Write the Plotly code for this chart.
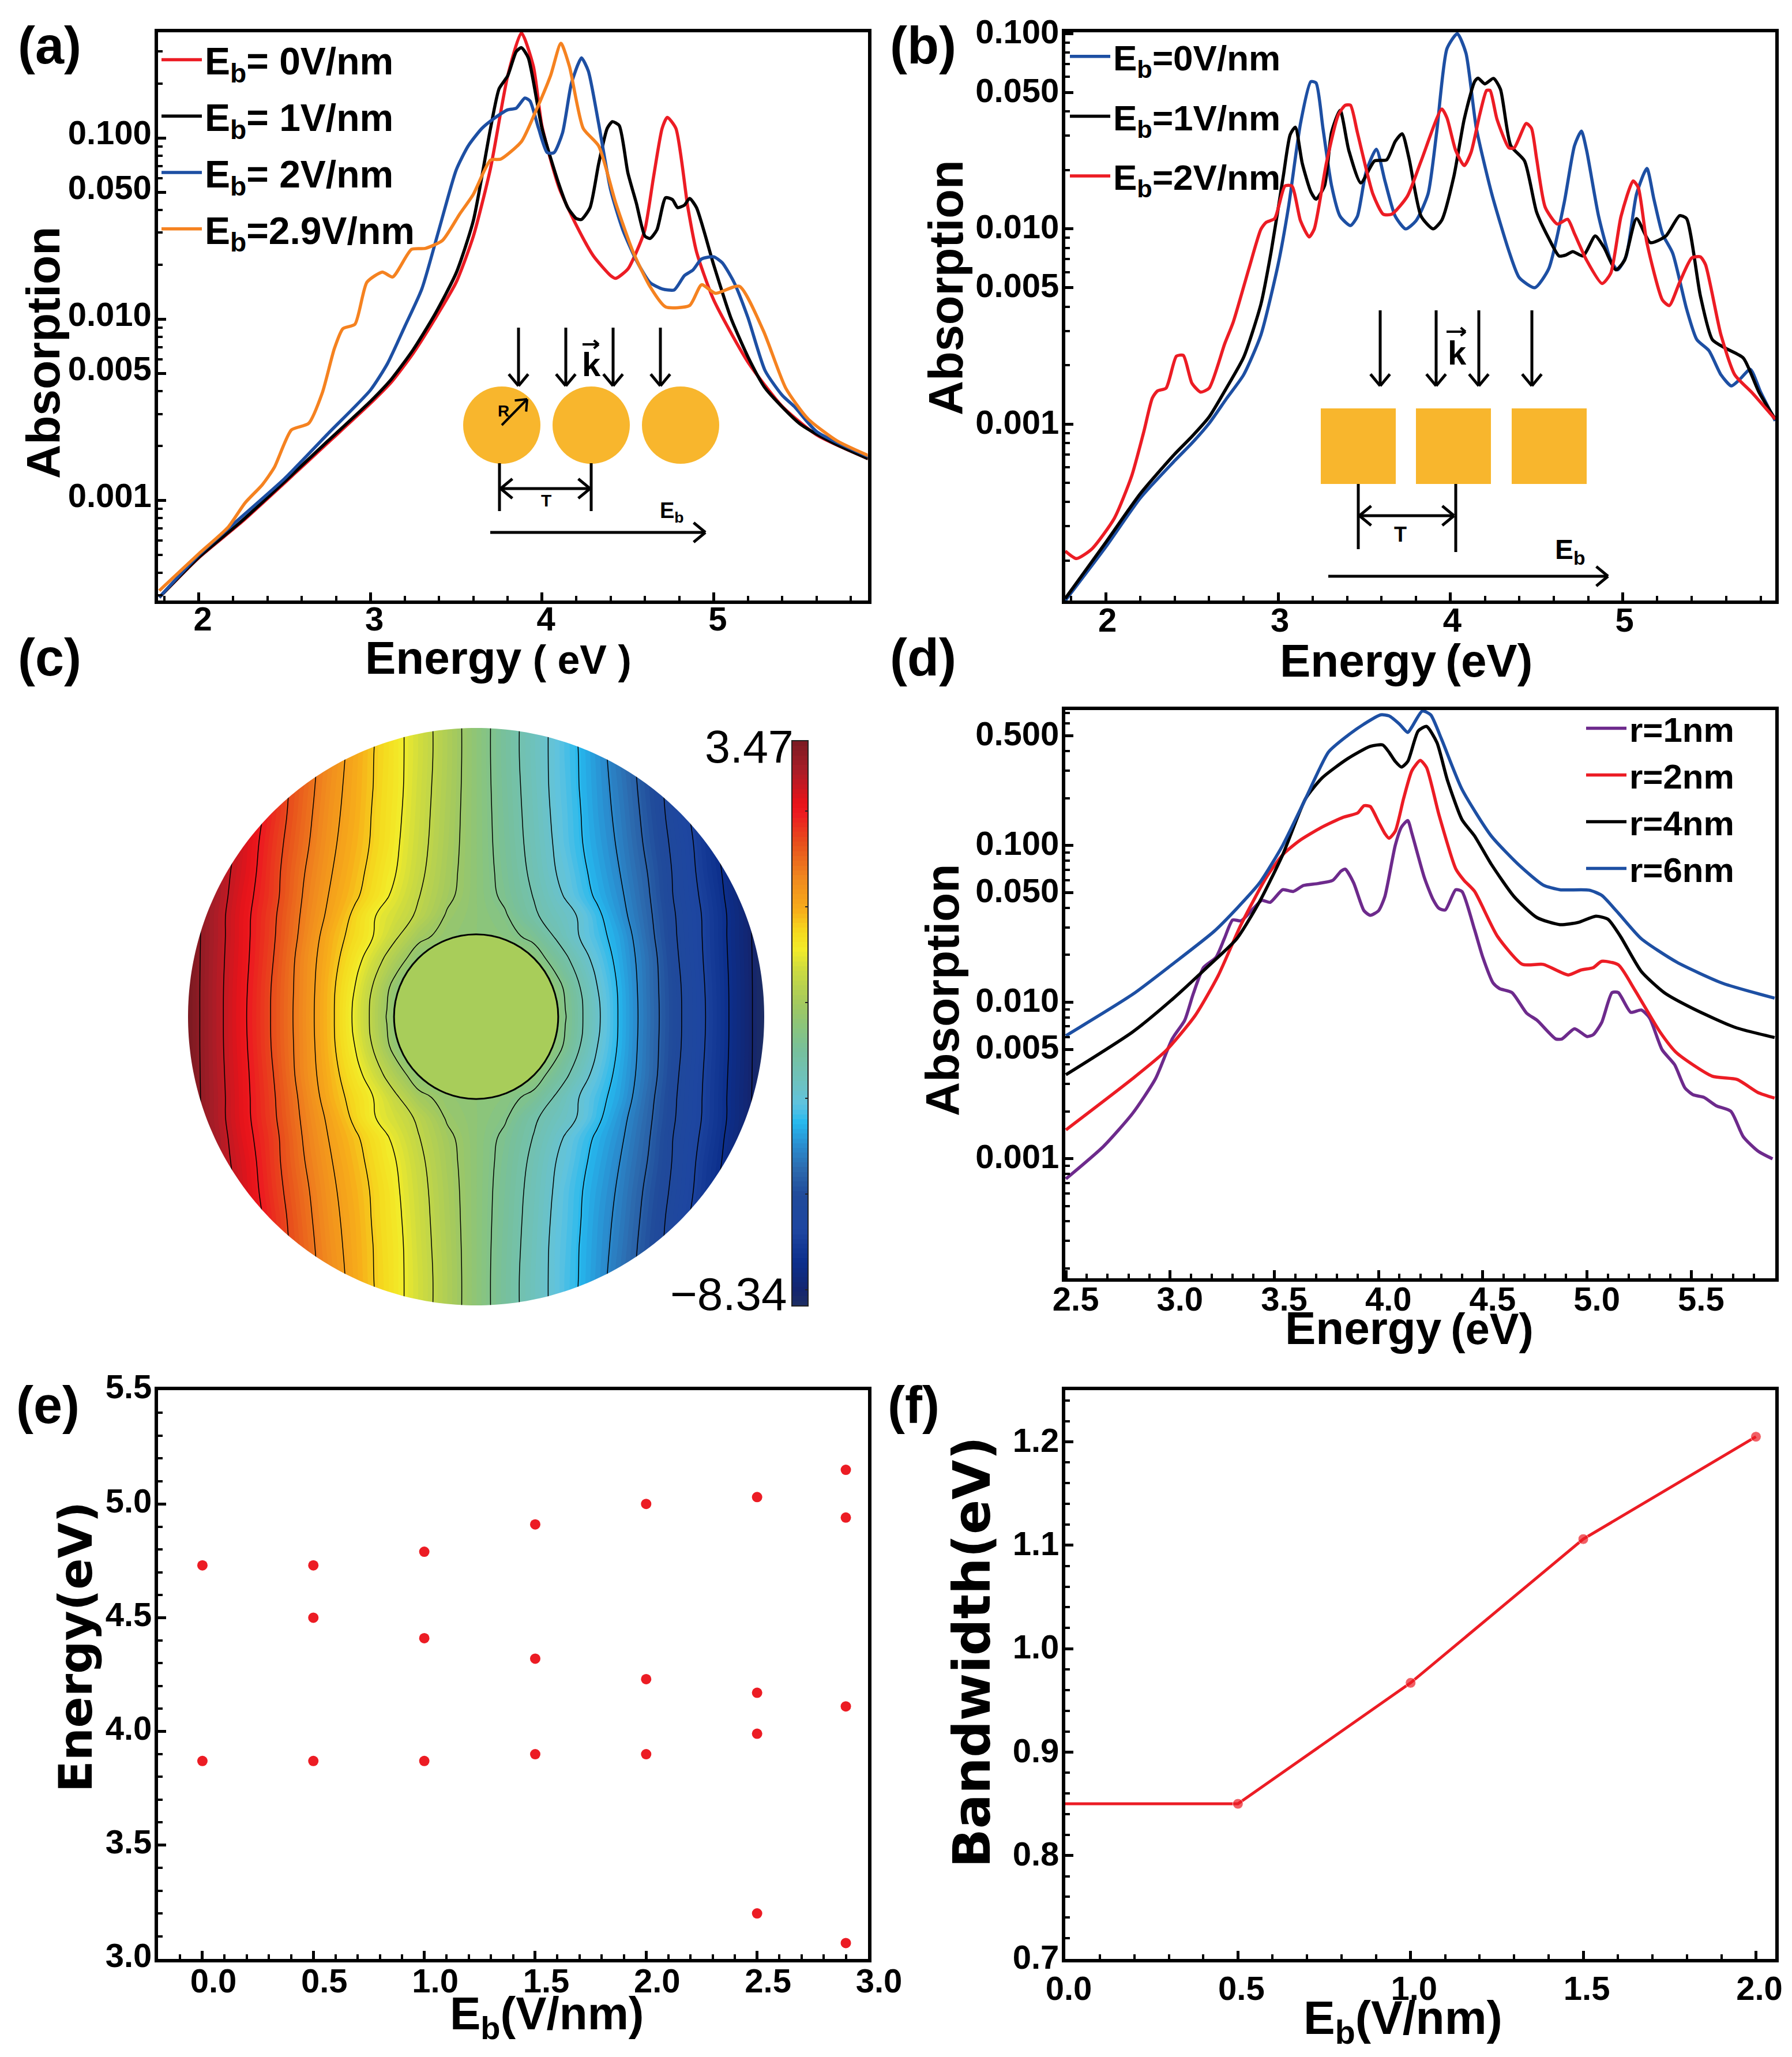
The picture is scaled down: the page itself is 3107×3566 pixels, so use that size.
import numpy as np
import plotly.graph_objects as go

W, H = 3107, 3566
PAGE_PAD = 8  # the html body keeps its default margin
FONT = "Liberation Sans"
WIDE = "DejaVu Sans"

RED = "#ec1c24"
BLUE = "#1d4fa3"
ORANGE = "#f58220"
PURPLE = "#6d2a8c"
GOLD = "#f8b62d"

# (a) absorption of the nanowire array, by bias field
a0_e = [1.77, 2.0, 2.25, 2.5, 2.75, 3.0, 3.125, 3.25, 3.375, 3.5, 3.6, 3.7, 3.8, 3.88, 3.95, 4.0, 4.1, 4.2, 4.3, 4.4, 4.43, 4.5, 4.55, 4.6, 4.65, 4.7, 4.73, 4.78, 4.85, 4.9, 5.0, 5.2, 5.4, 5.6, 5.9]
a0_a = [2.92e-4, 4.83e-4, 7.6e-4, 1.25e-3, 2.07e-3, 3.43e-3, 4.53e-3, 6.5e-3, 0.01, 0.016, 0.0287, 0.068, 0.22, 0.38, 0.248, 0.116, 0.053, 0.033, 0.0223, 0.0174, 0.0168, 0.0189, 0.0235, 0.0313, 0.061, 0.113, 0.13, 0.113, 0.0413, 0.0236, 0.0128, 5.8e-3, 3.3e-3, 2.3e-3, 1.7e-3]
a1_e = [1.77, 2.0, 2.25, 2.5, 2.75, 3.0, 3.125, 3.25, 3.375, 3.5, 3.6, 3.7, 3.75, 3.8, 3.85, 3.88, 3.92, 4.0, 4.1, 4.15, 4.2, 4.23, 4.28, 4.33, 4.38, 4.41, 4.45, 4.5, 4.55, 4.6, 4.63, 4.67, 4.72, 4.76, 4.79, 4.83, 4.86, 4.9, 5.0, 5.1, 5.2, 5.3, 5.5, 5.7, 5.9]
a1_a = [2.92e-4, 4.85e-4, 7.7e-4, 1.27e-3, 2.12e-3, 3.52e-3, 4.7e-3, 6.8e-3, 0.0106, 0.018, 0.035, 0.113, 0.187, 0.22, 0.3, 0.315, 0.277, 0.113, 0.055, 0.0413, 0.0359, 0.0355, 0.0413, 0.072, 0.113, 0.123, 0.117, 0.0645, 0.0436, 0.0287, 0.0279, 0.0312, 0.0468, 0.0457, 0.0413, 0.0426, 0.0464, 0.0413, 0.02, 0.0102, 6.2e-3, 4.17e-3, 2.66e-3, 2.07e-3, 1.7e-3]
a2_e = [1.77, 2.0, 2.25, 2.5, 2.75, 3.0, 3.1, 3.2, 3.3, 3.4, 3.5, 3.57, 3.65, 3.72, 3.8, 3.85, 3.9, 3.93, 3.98, 4.03, 4.07, 4.12, 4.17, 4.21, 4.23, 4.27, 4.33, 4.4, 4.47, 4.55, 4.63, 4.7, 4.77, 4.83, 4.88, 4.93, 5.0, 5.05, 5.12, 5.2, 5.3, 5.4, 5.47, 5.6, 5.9]
a2_a = [2.92e-4, 5e-4, 8.13e-4, 1.32e-3, 2.32e-3, 4.06e-3, 5.7e-3, 9.1e-3, 0.0147, 0.0313, 0.0666, 0.0904, 0.113, 0.128, 0.143, 0.146, 0.166, 0.16, 0.113, 0.083, 0.083, 0.107, 0.198, 0.255, 0.277, 0.234, 0.12, 0.0517, 0.0313, 0.0211, 0.0159, 0.0147, 0.0145, 0.0174, 0.0187, 0.0215, 0.0221, 0.0205, 0.0159, 0.0102, 5.2e-3, 3.8e-3, 3.3e-3, 2.4e-3, 1.75e-3]
a3_e = [1.77, 2.0, 2.17, 2.27, 2.37, 2.44, 2.54, 2.64, 2.72, 2.79, 2.84, 2.91, 2.98, 3.07, 3.13, 3.24, 3.32, 3.42, 3.52, 3.6, 3.7, 3.76, 3.88, 3.96, 4.05, 4.11, 4.16, 4.24, 4.33, 4.43, 4.53, 4.63, 4.72, 4.86, 4.93, 5.01, 5.15, 5.29, 5.42, 5.55, 5.72, 5.9]
a3_a = [3.18e-4, 5.08e-4, 7.1e-4, 9.7e-4, 1.22e-3, 1.52e-3, 2.45e-3, 2.66e-3, 3.93e-3, 6.88e-3, 8.87e-3, 9.38e-3, 0.016, 0.0182, 0.0171, 0.0243, 0.0246, 0.0272, 0.038, 0.0489, 0.0755, 0.0765, 0.0955, 0.138, 0.221, 0.333, 0.248, 0.113, 0.0904, 0.0436, 0.0236, 0.0151, 0.0117, 0.0119, 0.0155, 0.0139, 0.0152, 8.63e-3, 4.17e-3, 2.82e-3, 2.13e-3, 1.77e-3]

# (b) absorption of the square wire array
b0_e = [1.765, 2.0, 2.2, 2.4, 2.5, 2.6, 2.7, 2.8, 2.9, 3.0, 3.06, 3.13, 3.19, 3.22, 3.26, 3.31, 3.36, 3.42, 3.46, 3.51, 3.57, 3.62, 3.68, 3.74, 3.8, 3.87, 3.92, 3.98, 4.04, 4.09, 4.15, 4.24, 4.34, 4.4, 4.49, 4.57, 4.66, 4.72, 4.76, 4.79, 4.86, 4.93, 4.97, 5.02, 5.08, 5.14, 5.18, 5.23, 5.29, 5.37, 5.43, 5.5, 5.57, 5.63, 5.68, 5.74, 5.8, 5.885]
b0_a = [1.25e-4, 2.35e-4, 4.18e-4, 6.5e-4, 8e-4, 1.01e-3, 1.35e-3, 1.79e-3, 2.86e-3, 6.57e-3, 0.0129, 0.0347, 0.0568, 0.056, 0.0329, 0.0167, 0.0116, 0.0104, 0.0116, 0.0195, 0.0256, 0.0176, 0.0116, 0.01, 0.011, 0.0151, 0.0312, 0.0838, 0.1, 0.0796, 0.0329, 0.0151, 7.67e-3, 5.62e-3, 5e-3, 6.24e-3, 0.0136, 0.0267, 0.0317, 0.0253, 0.0116, 6.92e-3, 6.17e-3, 7.27e-3, 0.0151, 0.0204, 0.0143, 9.45e-3, 7.5e-3, 3.9e-3, 2.71e-3, 2.38e-3, 1.79e-3, 1.57e-3, 1.7e-3, 1.91e-3, 1.46e-3, 1.04e-3]
b1_e = [1.765, 2.0, 2.2, 2.4, 2.5, 2.6, 2.7, 2.8, 2.9, 2.96, 3.03, 3.07, 3.1, 3.14, 3.19, 3.22, 3.27, 3.31, 3.36, 3.41, 3.48, 3.56, 3.63, 3.68, 3.72, 3.76, 3.83, 3.9, 3.95, 4.02, 4.08, 4.14, 4.16, 4.2, 4.25, 4.29, 4.35, 4.43, 4.5, 4.57, 4.63, 4.67, 4.71, 4.77, 4.84, 4.89, 4.96, 5.01, 5.08, 5.16, 5.25, 5.33, 5.37, 5.45, 5.52, 5.6, 5.7, 5.79, 5.885]
b1_a = [1.28e-4, 2.48e-4, 4.4e-4, 7.03e-4, 8.65e-4, 1.09e-3, 1.53e-3, 2.2e-3, 4.11e-3, 7.67e-3, 0.0186, 0.0304, 0.0332, 0.0217, 0.0155, 0.0142, 0.0167, 0.0312, 0.0405, 0.0253, 0.0172, 0.0223, 0.0226, 0.0281, 0.0307, 0.0229, 0.0116, 0.01, 0.0111, 0.0186, 0.0365, 0.0568, 0.0592, 0.0553, 0.059, 0.052, 0.0267, 0.0223, 0.0122, 8.97e-3, 7.27e-3, 7.35e-3, 7.65e-3, 7.27e-3, 9.2e-3, 8.07e-3, 6.17e-3, 6.9e-3, 0.0113, 8.51e-3, 9.2e-3, 0.0117, 0.0113, 4.56e-3, 2.71e-3, 2.44e-3, 2.18e-3, 1.46e-3, 1.06e-3]
b2_e = [1.765, 1.83, 1.92, 2.05, 2.15, 2.22, 2.27, 2.3, 2.35, 2.41, 2.45, 2.5, 2.55, 2.6, 2.69, 2.74, 2.83, 2.9, 2.93, 2.98, 3.04, 3.08, 3.13, 3.18, 3.21, 3.28, 3.35, 3.39, 3.42, 3.46, 3.55, 3.61, 3.66, 3.75, 3.83, 3.95, 3.98, 4.03, 4.08, 4.12, 4.17, 4.21, 4.23, 4.27, 4.34, 4.37, 4.44, 4.47, 4.5, 4.55, 4.62, 4.68, 4.72, 4.79, 4.88, 4.93, 4.99, 5.06, 5.09, 5.14, 5.23, 5.27, 5.33, 5.4, 5.45, 5.48, 5.57, 5.65, 5.75, 5.885]
b2_a = [2.24e-4, 2.05e-4, 2.3e-4, 3.3e-4, 5.42e-4, 9.1e-4, 1.36e-3, 1.48e-3, 1.53e-3, 2.23e-3, 2.25e-3, 1.62e-3, 1.46e-3, 1.53e-3, 2.58e-3, 3.34e-3, 6.24e-3, 9.95e-3, 0.0108, 0.0113, 0.0166, 0.0166, 0.011, 9.1e-3, 0.01, 0.0217, 0.0385, 0.043, 0.043, 0.0312, 0.0151, 0.0119, 0.0119, 0.0147, 0.0223, 0.0411, 0.037, 0.0253, 0.0211, 0.0247, 0.0385, 0.0512, 0.0512, 0.0365, 0.026, 0.026, 0.0347, 0.0328, 0.0229, 0.0129, 0.0106, 0.0112, 9.45e-3, 6.92e-3, 5.25e-3, 5.92e-3, 0.0116, 0.0176, 0.0163, 8.5e-3, 4.33e-3, 4.05e-3, 5.33e-3, 7.1e-3, 7.2e-3, 6.57e-3, 2.86e-3, 1.79e-3, 1.45e-3, 1.06e-3]

# (d) absorption by wire radius
d6_e = [2.5, 2.82, 3.01, 3.21, 3.32, 3.43, 3.54, 3.65, 3.76, 3.85, 3.93, 4.01, 4.05, 4.1, 4.14, 4.16, 4.21, 4.25, 4.3, 4.4, 4.54, 4.68, 4.79, 4.87, 5.01, 5.07, 5.15, 5.26, 5.43, 5.65, 5.9]
d6_a = [6.1e-3, 0.0112, 0.0174, 0.0282, 0.0396, 0.0578, 0.1, 0.199, 0.394, 0.5, 0.594, 0.68, 0.67, 0.594, 0.525, 0.57, 0.72, 0.68, 0.483, 0.228, 0.115, 0.0735, 0.0558, 0.0521, 0.0518, 0.048, 0.037, 0.0254, 0.018, 0.0132, 0.0106]
d4_e = [2.5, 2.82, 3.01, 3.18, 3.32, 3.43, 3.54, 3.65, 3.73, 3.85, 3.96, 4.02, 4.05, 4.08, 4.11, 4.14, 4.19, 4.23, 4.28, 4.33, 4.4, 4.46, 4.54, 4.65, 4.76, 4.87, 4.96, 5.04, 5.1, 5.16, 5.26, 5.37, 5.51, 5.71, 5.9]
d4_a = [3.44e-3, 6.45e-3, 0.0104, 0.0168, 0.0254, 0.044, 0.0871, 0.199, 0.27, 0.356, 0.428, 0.437, 0.393, 0.343, 0.316, 0.343, 0.537, 0.574, 0.452, 0.261, 0.146, 0.115, 0.076, 0.0471, 0.0346, 0.0312, 0.0323, 0.0353, 0.0338, 0.0263, 0.0157, 0.0115, 9.07e-3, 6.9e-3, 5.94e-3]
d2_e = [2.5, 2.82, 2.98, 3.12, 3.23, 3.34, 3.46, 3.54, 3.62, 3.73, 3.83, 3.9, 3.93, 3.96, 4.0, 4.03, 4.05, 4.08, 4.12, 4.16, 4.2, 4.23, 4.29, 4.37, 4.41, 4.46, 4.57, 4.69, 4.79, 4.91, 4.97, 5.03, 5.07, 5.15, 5.23, 5.35, 5.43, 5.6, 5.72, 5.82, 5.9]
d2_a = [1.53e-3, 3.25e-3, 4.9e-3, 8.2e-3, 0.0147, 0.0312, 0.062, 0.0871, 0.107, 0.131, 0.151, 0.161, 0.179, 0.177, 0.141, 0.119, 0.111, 0.123, 0.199, 0.3, 0.348, 0.314, 0.156, 0.071, 0.0598, 0.051, 0.0263, 0.0174, 0.0174, 0.0149, 0.016, 0.0166, 0.0182, 0.0173, 0.0119, 6.45e-3, 4.74e-3, 3.37e-3, 3.21e-3, 2.65e-3, 2.44e-3]
d1_e = [2.5, 2.68, 2.82, 2.93, 3.01, 3.07, 3.11, 3.16, 3.22, 3.26, 3.3, 3.34, 3.4, 3.44, 3.48, 3.54, 3.59, 3.64, 3.71, 3.78, 3.82, 3.84, 3.88, 3.93, 3.96, 4.0, 4.03, 4.08, 4.11, 4.14, 4.16, 4.22, 4.26, 4.29, 4.32, 4.37, 4.4, 4.46, 4.5, 4.55, 4.58, 4.64, 4.71, 4.76, 4.85, 4.88, 4.94, 5.0, 5.03, 5.07, 5.12, 5.15, 5.21, 5.26, 5.3, 5.36, 5.42, 5.47, 5.51, 5.56, 5.62, 5.69, 5.75, 5.82, 5.89]
d1_a = [7.45e-4, 1.2e-3, 1.95e-3, 3.25e-3, 5.82e-3, 7.66e-3, 0.0112, 0.0166, 0.0193, 0.0254, 0.0334, 0.033, 0.0396, 0.0446, 0.0433, 0.0521, 0.0508, 0.0555, 0.0571, 0.0598, 0.0685, 0.0705, 0.0578, 0.0383, 0.0358, 0.0383, 0.0471, 0.1, 0.131, 0.144, 0.119, 0.062, 0.0455, 0.0396, 0.0387, 0.0521, 0.0508, 0.0291, 0.0193, 0.0132, 0.0122, 0.0115, 8.5e-3, 7.66e-3, 5.82e-3, 5.82e-3, 6.76e-3, 6.03e-3, 6.2e-3, 7.4e-3, 0.0115, 0.0115, 8.6e-3, 8.9e-3, 7.93e-3, 4.97e-3, 3.99e-3, 2.83e-3, 2.56e-3, 2.47e-3, 2.18e-3, 2.01e-3, 1.38e-3, 1.12e-3, 1e-3]

# (c) potential over the disc
c_u = [-1.0, -0.9, -0.8, -0.7, -0.6, -0.5, -0.42, -0.36, -0.31, -0.28, -0.2, -0.1, 0.0, 0.1, 0.2, 0.28, 0.31, 0.36, 0.42, 0.5, 0.6, 0.7, 0.8, 0.9, 1.0]
c_v_upper = [1.0, 0.9, 0.8, 0.7, 0.6, 0.5, 0.42, 0.35, 0.28, 0.2, 0.1, 0.0]
c_z_upper = [
    [3.94, 3.18, 2.47, 1.76, 1.11, 0.52, 0.05, -0.31, -0.60, -0.78, -1.25, -1.84, -2.43, -3.02, -3.61, -4.08, -4.26, -4.55, -4.91, -5.38, -5.97, -6.62, -7.33, -8.04, -8.80],
    [3.94, 3.18, 2.47, 1.76, 1.11, 0.49, 0.02, -0.34, -0.60, -0.78, -1.25, -1.84, -2.43, -3.02, -3.61, -4.08, -4.26, -4.52, -4.88, -5.35, -5.97, -6.62, -7.33, -8.04, -8.80],
    [3.94, 3.18, 2.47, 1.73, 1.08, 0.43, -0.01, -0.35, -0.63, -0.78, -1.28, -1.86, -2.43, -3.00, -3.58, -4.08, -4.23, -4.51, -4.85, -5.29, -5.94, -6.59, -7.33, -8.04, -8.80],
    [3.82, 3.12, 2.41, 1.70, 1.02, 0.37, -0.04, -0.39, -0.66, -0.82, -1.31, -1.89, -2.43, -2.97, -3.55, -4.04, -4.20, -4.47, -4.82, -5.23, -5.88, -6.56, -7.27, -7.98, -8.68],
    [3.65, 3.00, 2.32, 1.61, 0.95, 0.31, -0.10, -0.42, -0.69, -0.87, -1.35, -1.92, -2.43, -2.94, -3.51, -3.99, -4.17, -4.44, -4.76, -5.17, -5.81, -6.47, -7.18, -7.86, -8.51],
    [3.47, 2.88, 2.26, 1.55, 0.85, 0.23, -0.19, -0.51, -0.81, -0.94, -1.42, -1.97, -2.43, -2.89, -3.44, -3.92, -4.05, -4.35, -4.67, -5.09, -5.71, -6.41, -7.12, -7.74, -8.33],
    [3.47, 2.85, 2.17, 1.53, 0.79, 0.14, -0.28, -0.61, -0.91, -1.07, -1.52, -2.03, -2.43, -2.83, -3.34, -3.79, -3.95, -4.25, -4.58, -5.00, -5.65, -6.39, -7.03, -7.71, -8.33],
    [3.47, 2.79, 2.11, 1.46, 0.73, 0.05, -0.48, -0.90, -1.13, -1.25, -1.63, -2.19, -2.43, -2.67, -3.23, -3.61, -3.73, -3.96, -4.38, -4.91, -5.59, -6.32, -6.97, -7.65, -8.33],
    [3.47, 2.79, 2.10, 1.43, 0.67, -0.10, -0.57, -0.93, -1.25, -1.46, -1.99, -2.31, -2.43, -2.55, -2.87, -3.40, -3.61, -3.93, -4.29, -4.76, -5.53, -6.29, -6.96, -7.65, -8.33],
    [3.47, 2.77, 2.08, 1.38, 0.58, -0.18, -0.76, -1.23, -1.65, -1.87, -2.43, -2.43, -2.43, -2.43, -2.43, -2.99, -3.21, -3.63, -4.10, -4.68, -5.44, -6.24, -6.94, -7.63, -8.33],
    [3.47, 2.75, 2.04, 1.32, 0.56, -0.27, -0.97, -1.56, -2.05, -2.34, -2.43, -2.43, -2.43, -2.43, -2.43, -2.52, -2.81, -3.30, -3.89, -4.59, -5.42, -6.18, -6.90, -7.61, -8.33],
    [3.47, 2.75, 2.02, 1.31, 0.54, -0.29, -1.06, -1.65, -2.16, -2.43, -2.43, -2.43, -2.43, -2.43, -2.43, -2.43, -2.70, -3.21, -3.80, -4.57, -5.40, -6.17, -6.88, -7.61, -8.33],
]
c_scale = [[0.0, "#1e2f63"], [0.028, "#13256f"], [0.077, "#0c2f8c"], [0.135, "#1e46a0"], [0.197, "#204a9a"], [0.24, "#2c69ad"],
           [0.285, "#2a8ed0"], [0.324, "#25b8ee"], [0.357, "#5fc3e0"], [0.389, "#6cc2c4"], [0.455, "#78c09a"], [0.5, "#8dc578"],
           [0.536, "#a3c95e"], [0.598, "#cfdc3e"], [0.63, "#f2ec2a"], [0.663, "#f5d91e"], [0.7, "#f7ae1a"], [0.755, "#f08a1e"],
           [0.82, "#e84e1c"], [0.872, "#ec1a20"], [0.89, "#e8131a"], [0.949, "#a81d28"], [1.0, "#7a1a22"]]
WIRE_GREEN = "#a8cd5a"

# (e) peak energies against bias field
e_field = [0.0, 0.0, 0.5, 0.5, 0.5, 1.0, 1.0, 1.0, 1.5, 1.5, 1.5, 2.0, 2.0, 2.0, 2.5, 2.5, 2.5, 2.5, 2.9, 2.9, 2.9, 2.9]
e_energy = [3.87, 4.73, 3.87, 4.50, 4.73, 3.87, 4.41, 4.79, 3.90, 4.32, 4.91, 3.90, 4.23, 5.00, 3.20, 3.99, 4.17, 5.03, 3.07, 4.11, 4.94, 5.15]

# (f) bandwidth against bias field
f_field = [0.0, 0.5, 1.0, 1.5, 2.0]
f_width = [0.85, 0.85, 0.967, 1.106, 1.205]

# pixel boxes of the panels: left, right, top, bottom
box_a = (273.5, 1504.5, 56, 1041)
box_b = (1847, 3078, 56, 1041)
box_c = (316, 1335, 1252, 2273)
box_d = (1847, 3078, 1231, 2216)
box_e = (274, 1505, 2410, 3396)
box_f = (1847, 3078, 2410, 3396)


def px(x):
    return (x - PAGE_PAD) / W


def py(y):
    return 1 - (y - PAGE_PAD) / H


def dom_x(b):
    return [px(b[0]), px(b[1])]


def dom_y(b):
    return [py(b[3]), py(b[2])]


def log_minor(lo, hi):
    vals = []
    for d in range(lo, hi):
        for m in range(1, 10):
            vals.append(m * 10.0 ** d)
    return vals


def tickfont():
    return dict(family=FONT, size=58, color="black", weight=700)


def x_axis(b, rng, ticks, text, minor, anchor, shift, standoff):
    return dict(domain=dom_x(b), range=rng, anchor=anchor, tickmode="array", tickvals=ticks, ticktext=text,
                ticks="inside", ticklen=14, tickwidth=5, tickcolor="black", showline=True, linewidth=6,
                linecolor="black", mirror=True, showgrid=False, zeroline=False, tickfont=tickfont(),
                ticklabelshift=shift, ticklabelstandoff=standoff,
                minor=dict(tickmode="array", tickvals=minor, ticks="inside", ticklen=8, tickwidth=4,
                           tickcolor="black", showgrid=False))


def y_axis(b, rng, ticks, text, minor, anchor, shift, log=False):
    ax = dict(domain=dom_y(b), range=rng, anchor=anchor, tickmode="array", tickvals=ticks, ticktext=text,
              ticks="inside", ticklen=14, tickwidth=5, tickcolor="black", showline=True, linewidth=6,
              linecolor="black", mirror=True, showgrid=False, zeroline=False, tickfont=tickfont(),
              ticklabelshift=shift, ticklabelstandoff=-7,
              minor=dict(tickmode="array", tickvals=minor, ticks="inside", ticklen=8, tickwidth=4,
                         tickcolor="black", showgrid=False))
    if log:
        ax["type"] = "log"
    return ax


def legend_box(x, y, gap, size):
    return dict(x=px(x), y=py(y), xanchor="left", yanchor="top", bgcolor="rgba(0,0,0,0)", borderwidth=0,
                font=dict(family=FONT, size=size, color="black", weight=700), itemwidth=70,
                tracegroupgap=gap, traceorder="grouped", itemsizing="trace")


fig = go.Figure()


def add_curve(e, a, name, color, xa, ya, legend):
    fig.add_trace(go.Scatter(x=e, y=a, mode="lines", name=name, line=dict(color=color, width=5.5, shape="spline", smoothing=0.6),
                             xaxis=xa, yaxis=ya, legend=legend, legendgroup=name))


EB = "E<sub>b</sub>"
add_curve(a0_e, a0_a, EB + "= 0V/nm", RED, "x", "y", "legend")
add_curve(a1_e, a1_a, EB + "= 1V/nm", "black", "x", "y", "legend")
add_curve(a2_e, a2_a, EB + "= 2V/nm", BLUE, "x", "y", "legend")
add_curve(a3_e, a3_a, EB + "=2.9V/nm", ORANGE, "x", "y", "legend")

add_curve(b0_e, b0_a, EB + "=0V/nm", BLUE, "x2", "y2", "legend2")
add_curve(b1_e, b1_a, EB + "=1V/nm", "black", "x2", "y2", "legend2")
add_curve(b2_e, b2_a, EB + "=2V/nm", RED, "x2", "y2", "legend2")

add_curve(d1_e, d1_a, "r=1nm", PURPLE, "x4", "y4", "legend3")
add_curve(d2_e, d2_a, "r=2nm", RED, "x4", "y4", "legend3")
add_curve(d4_e, d4_a, "r=4nm", "black", "x4", "y4", "legend3")
add_curve(d6_e, d6_a, "r=6nm", BLUE, "x4", "y4", "legend3")

# (c) filled potential, then the black level lines on top
c_v = c_v_upper + [-v for v in c_v_upper[-2::-1]]
c_z = c_z_upper + c_z_upper[-2::-1]
fig.add_trace(go.Contour(x=c_u, y=c_v, z=c_z, zmin=-8.34, zmax=3.47, colorscale=c_scale, xaxis="x3", yaxis="y3",
                         contours=dict(coloring="fill", start=-8.34, end=3.47, size=0.1, showlines=False),
                         line=dict(width=0), showlegend=False, hoverinfo="skip",
                         colorbar=dict(x=px(1373), xanchor="left", y=py(1284), yanchor="top", xpad=0, ypad=0,
                                       lenmode="pixels", len=980, thicknessmode="pixels", thickness=28,
                                       outlinewidth=2, outlinecolor="#222222", tickmode="array",
                                       tickvals=[-8, -6, -4, -2, 0, 2], ticks="inside", ticklen=6, tickwidth=2,
                                       tickcolor="#222222", showticklabels=False)))
fig.add_trace(go.Contour(x=c_u, y=c_v, z=c_z, xaxis="x3", yaxis="y3", showscale=False, showlegend=False,
                         contours=dict(coloring="none", start=-8.035, end=3.175, size=0.59),
                         line=dict(color="black", width=1.5, smoothing=1.3), hoverinfo="skip"))

fig.add_trace(go.Scatter(x=e_field, y=e_energy, mode="markers", marker=dict(color=RED, size=18), xaxis="x5", yaxis="y5",
                         showlegend=False))
fig.add_trace(go.Scatter(x=f_field, y=f_width, mode="lines+markers", line=dict(color=RED, width=5),
                         marker=dict(color=RED, size=[0, 18, 18, 18, 18]), xaxis="x6", yaxis="y6", showlegend=False))

shapes = []
annots = []


def seg(x0, y0, x1, y1, width=5):
    shapes.append(dict(type="line", xref="paper", yref="paper", x0=px(x0), y0=py(y0), x1=px(x1), y1=py(y1),
                       line=dict(color="black", width=width)))


def arrow(x0, y0, x1, y1, head=22, both=False, width=5):
    seg(x0, y0, x1, y1, width)
    ang = np.arctan2(y1 - y0, x1 - x0)
    ends = [(x1, y1, ang)]
    if both:
        ends.append((x0, y0, ang + np.pi))
    for ex, ey, a in ends:
        for da in (2.45, -2.45):
            seg(ex, ey, ex + head * 1.2 * np.cos(a + da), ey + head * 1.2 * np.sin(a + da), width)


def blob(kind, x0, y0, x1, y1):
    shapes.append(dict(type=kind, xref="paper", yref="paper", x0=px(x0), y0=py(y0), x1=px(x1), y1=py(y1),
                       fillcolor=GOLD, line=dict(width=0), layer="below"))


def label(x, y, text, size=80, family=FONT, weight=700, xanchor="center", angle=0):
    annots.append(dict(x=px(x), y=py(y), xref="paper", yref="paper", text=text, showarrow=False, textangle=angle,
                       xanchor=xanchor, yanchor="middle",
                       font=dict(family=family, size=size, color="black", weight=weight)))


# inset of (a): round wires
for cx in (870, 1025, 1180):
    blob("circle", cx - 67, 670, cx + 67, 804)
for ax_ in (899, 981, 1063, 1145):
    arrow(ax_, 568, ax_, 669)
arrow(870, 737, 914, 692, head=18, width=4)
seg(866, 803, 866, 886)
seg(1025, 803, 1025, 886)
arrow(868, 847, 1023, 847, both=True)
arrow(850, 923, 1223, 923)
arrow(1010, 597, 1038, 597, head=9, width=4)
label(1025, 632, "k", 58)
label(873, 712, "R", 28)
label(947, 868, "T", 30)
label(1165, 888, "E<sub>b</sub>", 38)

# inset of (b): square wires
for xl in (2290, 2455, 2621):
    blob("rect", xl, 708, xl + 130, 839)
for ax_ in (2393, 2490, 2564, 2656):
    arrow(ax_, 538, ax_, 669)
seg(2355, 839, 2355, 952)
seg(2524, 839, 2524, 957)
arrow(2357, 894, 2521, 894, both=True)
arrow(2303, 999, 2788, 999)
arrow(2508, 575, 2541, 575, head=9, width=4)
label(2526, 612, "k", 58)
label(2428, 927, "T", 36)
label(2722, 956, "E<sub>b</sub>", 48)

# (c) white mask around the disc, the wire itself, colour bar ends
t = np.linspace(0, 2 * np.pi, 361)
mask = "M -1.02 -1.02 L 1.02 -1.02 L 1.02 1.02 L -1.02 1.02 Z M " + " L ".join(
    f"{np.cos(a):.4f} {np.sin(a):.4f}" for a in t) + " Z"
shapes.append(dict(type="path", xref="x3", yref="y3", path=mask, fillcolor="white", line=dict(width=0)))
shapes.append(dict(type="circle", xref="x3", yref="y3", x0=-0.285, y0=-0.285, x1=0.285, y1=0.285,
                   fillcolor=WIRE_GREEN, line=dict(color="black", width=3)))
label(1378, 1295, "3.47", 79, weight=400, xanchor="right")
label(1366, 2243, "\u22128.34", 80, weight=400, xanchor="right")

# panel letters
for txt, x, y in [("(a)", 29, 79), ("(b)", 1541, 79), ("(c)", 29, 1140), ("(d)", 1541, 1140), ("(e)", 26, 2436), ("(f)", 1537, 2436)]:
    label(x, y, txt, 90, xanchor="left")

# axis titles
label(864, 1141, "Energy<span style='font-size:70px'> ( eV )</span>", 80)
label(2438, 1145, "Energy\u2009<span style='font-size:80px'>(eV)</span>", 80)
label(2443, 2302, "Energy\u2009<span style='font-size:76px'>(eV)</span>", 80)
label(948, 3496, "E<sub>b</sub>(V/nm)", 80)
label(2432, 3503, "E<sub>b</sub>(V/nm)", 82)
label(75, 612, "Absorption", 82, angle=-90)
label(1640, 499, "Absorption", 83, angle=-90)
label(1633, 1717, "Absorption", 82, angle=-90)
label(131, 2855, "Energy(eV)", 80, family=WIDE, angle=-90)
label(1685, 2864, "Bandwidth(eV)", 89, family=WIDE, angle=-90)

log_ticks = [0.1, 0.05, 0.01, 0.005, 0.001]
log_text = ["0.100", "0.050", "0.010", "0.005", "0.001"]

fig.update_layout(
    width=W, height=H, margin=dict(l=0, r=0, t=0, b=0, autoexpand=False), paper_bgcolor="white", plot_bgcolor="rgba(0,0,0,0)",
    font=dict(family=FONT, color="black"), shapes=shapes, annotations=annots,
    legend=legend_box(275, 54, 9, 66),
    legend2=legend_box(1850, 51, 20, 62),
    legend3=legend_box(2745, 1217, 0, 60),
    xaxis=x_axis(box_a, [1.761, 5.898], [2, 3, 4, 5], ["2", "3", "4", "5"], list(np.arange(1.8, 5.9, 0.2).round(1)), "y", 7, -24),
    yaxis=y_axis(box_a, [-3.552, -0.417], log_ticks, log_text, log_minor(-4, 0), "x", -9, log=True),
    xaxis2=x_axis(box_b, [1.765, 5.885], [2, 3, 4, 5], ["2", "3", "4", "5"], list(np.arange(1.8, 5.9, 0.2).round(1)), "y2", 3, -22),
    yaxis2=y_axis(box_b, [-3.903, -0.993], log_ticks, log_text, log_minor(-4, 0), "x2", -4, log=True),
    xaxis3=dict(domain=dom_x(box_c), range=[-1.02, 1.02], visible=False, anchor="y3"),
    yaxis3=dict(domain=dom_y(box_c), range=[-1.02, 1.02], visible=False, anchor="x3"),
    xaxis4=x_axis(box_d, [2.497, 5.903], [2.5, 3, 3.5, 4, 4.5, 5, 5.5], ["2.5", "3.0", "3.5", "4.0", "4.5", "5.0", "5.5"], list(np.arange(2.5, 5.9, 0.1).round(1)), "y4", 17, -20),
    yaxis4=y_axis(box_d, [-3.762, -0.137], [0.5] + log_ticks, ["0.500"] + log_text, log_minor(-4, 0), "x4", -4, log=True),
    xaxis5=x_axis(box_e, [-0.2, 3.0], [0, 0.5, 1, 1.5, 2, 2.5, 3], ["0.0", "0.5", "1.0", "1.5", "2.0", "2.5", "3.0"], list(np.arange(-0.1, 3.0, 0.1).round(1)), "y5", 19, -18),
    yaxis5=y_axis(box_e, [3.0, 5.5], [3, 3.5, 4, 4.5, 5, 5.5], ["3.0", "3.5", "4.0", "4.5", "5.0", "5.5"], list(np.arange(3.1, 5.5, 0.1).round(1)), "x5", -6),
    xaxis6=x_axis(box_f, [0, 2.056], [0, 0.5, 1, 1.5, 2], ["0.0", "0.5", "1.0", "1.5", "2.0"], list(np.arange(0.1, 2.05, 0.1).round(1)), "y6", 6, -5),
    yaxis6=y_axis(box_f, [0.7, 1.25], [0.7, 0.8, 0.9, 1.0, 1.1, 1.2], ["0.7", "0.8", "0.9", "1.0", "1.1", "1.2"], list(np.arange(0.72, 1.25, 0.02).round(2)), "x6", -3),
)

fig.write_html("out.html")
